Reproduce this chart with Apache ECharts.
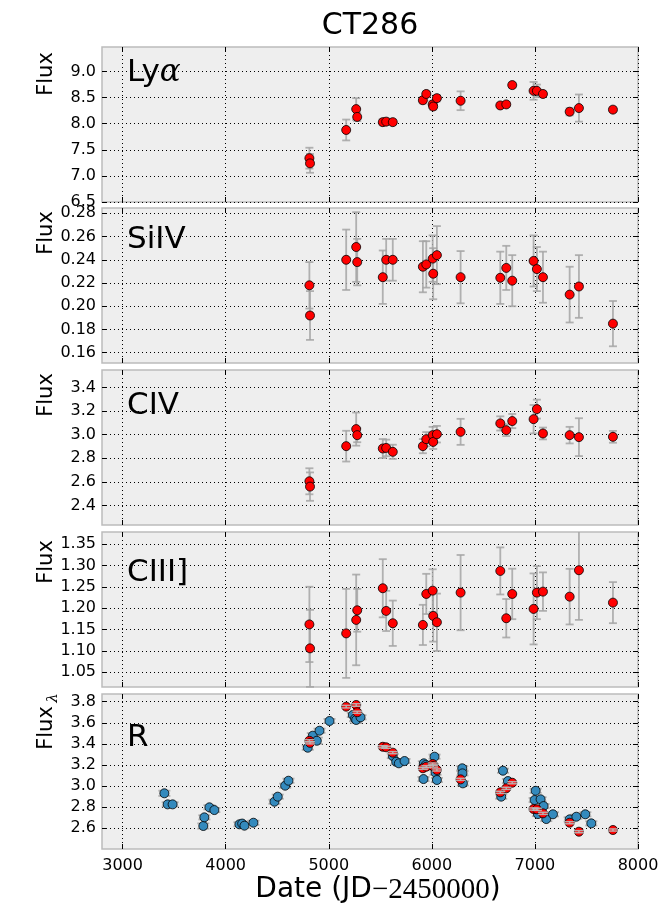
<!DOCTYPE html>
<html>
<head>
<meta charset="utf-8">
<script src="https://cdn.jsdelivr.net/npm/echarts@6/dist/echarts.min.js"></script>
<style>
  html, body { margin: 0; padding: 0; background: #fff; }
  #chart { width: 668px; height: 910px; }
</style>
</head>
<body>
<div id="chart"></div>
<script>
// Epochs of the spectra (JD - 2450000)
const specDates = [4812, 4818, 5169, 5266, 5276, 5524, 5557, 5621, 5913, 5946, 6008, 6013,
                   6049, 6279, 6664, 6722, 6780, 6987, 7019, 7078, 7337, 7427, 7757];

// Emission-line fluxes and their uncertainties at each spectral epoch
const lyaFlux  = [7.34, 7.24, 7.88, 8.28, 8.13, 8.03, 8.04, 8.03, 8.45, 8.57, 8.37, 8.33,
                  8.49, 8.44, 8.35, 8.37, 8.74, 8.63, 8.63, 8.57, 8.23, 8.30, 8.27];
const lyaErr   = [0.20, 0.18, 0.20, 0.21, 0.08, 0.06, 0.06, 0.05, 0.06, 0.05, 0.07, 0.06,
                  0.06, 0.18, 0.04, 0.04, 0.05, 0.17, 0.12, 0.05, 0.07, 0.26, 0.05];

const siivFlux = [0.218, 0.192, 0.240, 0.251, 0.238, 0.225, 0.240, 0.240, 0.234, 0.236, 0.241, 0.228,
                  0.244, 0.225, 0.2245, 0.233, 0.222, 0.239, 0.232, 0.225, 0.210, 0.217, 0.185];
const siivErr  = [0.020, 0.021, 0.026, 0.030, 0.020, 0.023, 0.018, 0.018, 0.022, 0.020, 0.020, 0.022,
                  0.025, 0.0225, 0.0225, 0.019, 0.022, 0.022, 0.019, 0.022, 0.024, 0.027, 0.0195];

const civFlux  = [2.606, 2.561, 2.903, 3.047, 2.996, 2.883, 2.888, 2.855, 2.903, 2.962, 2.996, 2.939,
                  3.004, 3.024, 3.095, 3.038, 3.115, 3.131, 3.216, 3.010, 2.996, 2.979, 2.982];
const civErr   = [0.11, 0.12, 0.13, 0.14, 0.06, 0.08, 0.07, 0.06, 0.06, 0.06, 0.07, 0.06,
                  0.07, 0.11, 0.06, 0.05, 0.06, 0.12, 0.08, 0.05, 0.07, 0.16, 0.05];

const ciiiFlux = [1.162, 1.106, 1.141, 1.1725, 1.195, 1.2465, 1.1935, 1.1647, 1.1608, 1.2332, 1.2409, 1.1818,
                  1.167, 1.2363, 1.287, 1.1764, 1.2332, 1.1982, 1.2363, 1.2386, 1.2269, 1.2886, 1.2129];
const ciiiErr  = [0.088, 0.090, 0.104, 0.106, 0.050, 0.068, 0.047, 0.053, 0.047, 0.047, 0.050, 0.060,
                  0.067, 0.088, 0.055, 0.045, 0.059, 0.083, 0.062, 0.045, 0.065, 0.116, 0.048];

// R-band continuum measured on the spectra
const rSpecFlux = [3.43, 3.41, 3.753, 3.769, 3.70, 3.373, 3.368, 3.317, 3.169, 3.184, 3.209, 3.19,
                   3.153, 3.064, 2.941, 2.979, 3.032, 2.783, 2.78, 2.742, 2.653, 2.568, 2.584];
const rSpecErr  = [0.010, 0.010, 0.012, 0.012, 0.010, 0.010, 0.010, 0.010, 0.010, 0.010, 0.010, 0.010,
                   0.010, 0.010, 0.010, 0.010, 0.010, 0.010, 0.010, 0.010, 0.010, 0.010, 0.010];

// R-band photometric light curve
const rPhotDates = [3405, 3437, 3485, 3783, 3793, 3842, 3890, 4133, 4160, 4182, 4269, 4473,
                    4505, 4577, 4609, 4796, 4845, 4884, 4910, 5007, 5233, 5255, 5266, 5308,
                    5621, 5654, 5680, 5735, 5919, 5922, 5940, 6010, 6026, 6036, 6049, 6295,
                    6297, 6301, 6673, 6690, 6738, 6997, 7007, 7029, 7055, 7084, 7110, 7175,
                    7337, 7402, 7489, 7547];
const rPhotFlux  = [2.932, 2.827, 2.827, 2.622, 2.704, 2.799, 2.773, 2.638, 2.645, 2.625, 2.653, 2.852,
                    2.900, 3.004, 3.051, 3.364, 3.478, 3.430, 3.525, 3.617, 3.674, 3.640, 3.627, 3.652,
                    3.285, 3.231, 3.216, 3.238, 3.067, 3.216, 3.200, 3.190, 3.279, 3.127, 3.058, 3.169,
                    3.121, 3.026, 2.900, 3.146, 3.048, 2.868, 2.956, 2.735, 2.875, 2.811, 2.688, 2.733,
                    2.685, 2.710, 2.733, 2.647];
const rPhotErr   = [0.025, 0.020, 0.020, 0.025, 0.020, 0.020, 0.020, 0.020, 0.020, 0.020, 0.020, 0.020,
                    0.020, 0.020, 0.020, 0.020, 0.025, 0.030, 0.020, 0.020, 0.020, 0.025, 0.030, 0.020,
                    0.020, 0.025, 0.020, 0.020, 0.020, 0.020, 0.020, 0.020, 0.020, 0.020, 0.020, 0.020,
                    0.020, 0.020, 0.020, 0.020, 0.020, 0.020, 0.020, 0.020, 0.020, 0.020, 0.020, 0.020,
                    0.020, 0.020, 0.020, 0.020];

// Tick positions
const dateTicks = [3000, 4000, 5000, 6000, 7000, 8000];
const lyaTicks  = [6.5, 7.0, 7.5, 8.0, 8.5, 9.0];
const siivTicks = [0.16, 0.18, 0.20, 0.22, 0.24, 0.26, 0.28];
const civTicks  = [2.4, 2.6, 2.8, 3.0, 3.2, 3.4];
const ciiiTicks = [1.05, 1.10, 1.15, 1.20, 1.25, 1.30, 1.35];
const rTicks    = [2.6, 2.8, 3.0, 3.2, 3.4, 3.6, 3.8];

// Panel layout: vertical position, y range and label precision
const panels = [
  { top: 47,  min: 6.5,    max: 9.47,   ticks: lyaTicks,  dec: 1 },
  { top: 208, min: 0.1511, max: 0.2846, ticks: siivTicks, dec: 2 },
  { top: 370, min: 2.2365, max: 3.5466, ticks: civTicks,  dec: 1 },
  { top: 532, min: 1.0157, max: 1.378,  ticks: ciiiTicks, dec: 2 },
  { top: 694, min: 2.404,  max: 3.873,  ticks: rTicks,    dec: 1 }
];
const PANEL_H = 155;
const X_MIN = 2800, X_MAX = 8000;
const FONT = 'DejaVu Sans';

const tickStyle = { show: true, inside: true, length: 5, lineStyle: { color: '#000', width: 1 } };
const gridLine = { show: true, lineStyle: { color: '#000', width: 1, type: [1, 3] } };

const grids = [], xAxes = [], yAxes = [], series = [];

function errorBars(capHalf, stroke, width) {
  return function (params, api) {
    const x = api.value(0), y = api.value(1), e = api.value(2);
    const cs = params.coordSys;
    const hi = api.coord([x, y + e]);
    const lo = api.coord([x, y - e]);
    const yTop = Math.max(hi[1], cs.y);
    const yBot = Math.min(lo[1], cs.y + cs.height);
    const style = { stroke: stroke, lineWidth: width, fill: null };
    const kids = [{ type: 'line', shape: { x1: hi[0], y1: yTop, x2: hi[0], y2: yBot }, style: style }];
    if (hi[1] >= cs.y) {
      kids.push({ type: 'line', shape: { x1: hi[0] - capHalf, y1: hi[1], x2: hi[0] + capHalf, y2: hi[1] }, style: style });
    }
    if (lo[1] <= cs.y + cs.height) {
      kids.push({ type: 'line', shape: { x1: lo[0] - capHalf, y1: lo[1], x2: lo[0] + capHalf, y2: lo[1] }, style: style });
    }
    return { type: 'group', children: kids };
  };
}

function addErrors(i, dates, vals, errs, z, stroke, capHalf, width) {
  series.push({
    type: 'custom', xAxisIndex: 2 * i, yAxisIndex: 2 * i, z: z,
    renderItem: errorBars(capHalf, stroke, width),
    encode: { x: 0, y: 1 },
    data: dates.map((d, k) => [d, vals[k], errs[k]]),
    silent: true
  });
}

function addPoints(i, dates, vals, color, z) {
  series.push({
    type: 'scatter', xAxisIndex: 2 * i, yAxisIndex: 2 * i, z: z,
    symbol: 'circle', symbolSize: 9,
    itemStyle: { color: color, borderColor: '#000', borderWidth: 0.8, opacity: 1 },
    data: dates.map((d, k) => [d, vals[k]]),
    silent: true
  });
}

panels.forEach((p, i) => {
  grids.push({
    left: 102, right: 30, top: p.top, height: PANEL_H,
    show: true, backgroundColor: '#eeeeee', borderColor: '#bcbcbc', borderWidth: 1.5
  });
  // bottom and mirrored top date axes
  xAxes.push({
    type: 'value', gridIndex: i, min: X_MIN, max: X_MAX, position: 'bottom',
    axisLine: { show: false },
    axisTick: Object.assign({ customValues: dateTicks }, tickStyle),
    axisLabel: { show: i === panels.length - 1, customValues: dateTicks, color: '#000',
                 fontFamily: FONT, fontSize: 16, margin: 9, formatter: v => String(Math.round(v)) },
    splitLine: gridLine
  });
  xAxes.push({
    type: 'value', gridIndex: i, min: X_MIN, max: X_MAX, position: 'top',
    axisLine: { show: false },
    axisTick: Object.assign({ customValues: dateTicks }, tickStyle),
    axisLabel: { show: false },
    splitLine: { show: false }
  });
  // left and mirrored right flux axes
  yAxes.push({
    type: 'value', gridIndex: i, min: p.min, max: p.max, position: 'left',
    axisLine: { show: false },
    axisTick: Object.assign({ customValues: p.ticks }, tickStyle),
    axisLabel: { customValues: p.ticks, color: '#000', fontFamily: FONT, fontSize: 16, margin: 6,
                 formatter: v => Number(v).toFixed(p.dec) },
    splitLine: gridLine
  });
  yAxes.push({
    type: 'value', gridIndex: i, min: p.min, max: p.max, position: 'right',
    axisLine: { show: false },
    axisTick: Object.assign({ customValues: p.ticks }, tickStyle),
    axisLabel: { show: false },
    splitLine: { show: false }
  });
});

const ERR_GREY = 'rgba(165,165,165,0.85)';
addErrors(0, specDates, lyaFlux, lyaErr, 2, ERR_GREY, 4, 1.8);
addPoints(0, specDates, lyaFlux, '#ff0000', 3);
addErrors(1, specDates, siivFlux, siivErr, 2, ERR_GREY, 4, 1.8);
addPoints(1, specDates, siivFlux, '#ff0000', 3);
addErrors(2, specDates, civFlux, civErr, 2, ERR_GREY, 4, 1.8);
addPoints(2, specDates, civFlux, '#ff0000', 3);
addErrors(3, specDates, ciiiFlux, ciiiErr, 2, ERR_GREY, 4, 1.8);
addPoints(3, specDates, ciiiFlux, '#ff0000', 3);
addErrors(4, rPhotDates, rPhotFlux, rPhotErr, 2, ERR_GREY, 6, 1.8);
addPoints(4, rPhotDates, rPhotFlux, '#348abd', 3);
addPoints(4, specDates, rSpecFlux, '#ff0000', 4);
addErrors(4, specDates, rSpecFlux, rSpecErr, 5, 'rgba(185,185,185,0.9)', 5, 1.5);

// Text: title, panel names, axis names
const txt = (x, y, text, size, extra) => ({
  type: 'text', x: x, y: y, z: 10, silent: true,
  style: Object.assign({ text: text, fill: '#000', fontFamily: FONT, fontSize: size,
                         align: 'center', verticalAlign: 'middle' }, extra || {})
});

const lineNames = [
  { y: 73,  text: '{t|Ly}{m|α}' },
  { y: 240, text: '{t|SiIV}' },
  { y: 406, text: '{t|CIV}' },
  { y: 573, text: '{t|CIII]}' },
  { y: 738, text: '{t|R}' }
];
const nameRich = {
  t: { fontFamily: FONT, fontSize: 31, fill: '#000' },
  m: { fontFamily: 'DejaVu Serif', fontStyle: 'italic', fontSize: 31, fill: '#000' }
};

const graphics = [txt(370, 26, 'CT286', 30)];
lineNames.forEach(n => graphics.push(txt(127, n.y, n.text, 31, { align: 'left', rich: nameRich })));

// Rotated flux labels; the last one carries a subscript lambda
const fluxNameY = [74, 233, 395, 562, 728];
fluxNameY.forEach((y, i) => {
  const g = txt(47, y, 'Flux', 21);
  g.rotation = Math.PI / 2;
  graphics.push(g);
});
const lam = txt(53, 698, 'λ', 15, { fontFamily: 'DejaVu Serif', fontStyle: 'italic' });
lam.rotation = Math.PI / 2;
graphics.push(lam);

graphics.push(txt(378, 890, '{a|Date (JD}{m|−2450000}{a|)}', 28, {
  rich: {
    a: { fontFamily: FONT, fontSize: 28, fill: '#000' },
    m: { fontFamily: 'Liberation Serif', fontSize: 29, fill: '#000' }
  }
}));

const chart = echarts.init(document.getElementById('chart'), null, { renderer: 'canvas' });
chart.setOption({
  backgroundColor: '#ffffff',
  animation: false,
  grid: grids,
  xAxis: xAxes,
  yAxis: yAxes,
  series: series,
  graphic: graphics
});
</script>
</body>
</html>
